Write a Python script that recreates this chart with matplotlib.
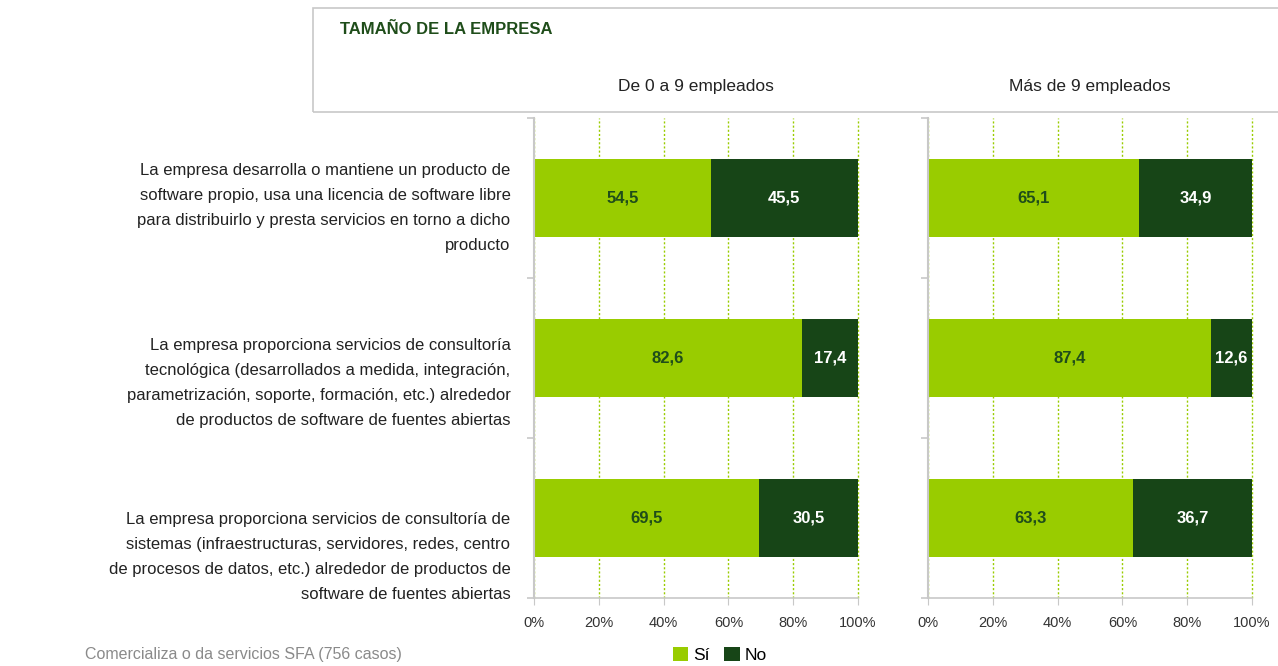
import numpy as np
import matplotlib.pyplot as plt
from matplotlib.patches import Rectangle
from matplotlib.transforms import ScaledTranslation

plt.rcParams['font.family'] = ['Liberation Sans', 'DejaVu Sans']

categorias = [
    "La empresa desarrolla o mantiene un producto de\n"
    "software propio, usa una licencia de software libre\n"
    "para distribuirlo y presta servicios en torno a dicho\n"
    "producto",
    "La empresa proporciona servicios de consultoría\n"
    "tecnológica (desarrollados a medida, integración,\n"
    "parametrización, soporte, formación, etc.) alrededor\n"
    "de productos de software de fuentes abiertas",
    "La empresa proporciona servicios de consultoría de\n"
    "sistemas (infraestructuras, servidores, redes, centro\n"
    "de procesos de datos, etc.) alrededor de productos de\n"
    "software de fuentes abiertas",
]
grupos = ["De 0 a 9 empleados", "Más de 9 empleados"]
si_0a9 = [54.5, 82.6, 69.5]
no_0a9 = [45.5, 17.4, 30.5]
si_mas9 = [65.1, 87.4, 63.3]
no_mas9 = [34.9, 12.6, 36.7]
ticks_pct = [0, 20, 40, 60, 80, 100]

verde_claro = '#99cc00'
verde_osc = '#174517'
gris = '#c8c8c8'

fig = plt.figure(figsize=(12.78, 6.66), dpi=100)

# cabecera
fig.patches.append(Rectangle((313/1278, 1-112/666), 1.0, 104/666, transform=fig.transFigure,
                             fill=False, edgecolor=gris, linewidth=1.2))
fig.text(340/1278, 1-30/666, "TAMAÑO DE LA EMPRESA", color='#1f4d1a', fontsize=12,
         fontweight='bold', va='center', ha='left')

ax1 = fig.add_axes([534/1278, 1-598/666, 324/1278, 480/666])
ax2 = fig.add_axes([928/1278, 1-598/666, 324/1278, 480/666])

y = np.arange(len(categorias))
for ax, si, no, titulo in [(ax1, si_0a9, no_0a9, grupos[0]), (ax2, si_mas9, no_mas9, grupos[1])]:
    ax.barh(y, si, height=0.49, color=verde_claro, zorder=2, label='Sí')
    ax.barh(y, no, left=si, height=0.49, color=verde_osc, zorder=2, label='No')
    for i in range(len(y)):
        ax.text(si[i] / 2, y[i], f"{si[i]:.1f}".replace('.', ','), ha='center', va='center',
                color='#1f4d1a', fontsize=12, fontweight='bold', zorder=3)
        ax.text(si[i] + no[i] / 2, y[i], f"{no[i]:.1f}".replace('.', ','), ha='center', va='center',
                color='white', fontsize=12, fontweight='bold', zorder=3)
    ax.set_xlim(0, 100)
    ax.set_ylim(len(categorias) - 0.5, -0.5)
    ax.set_xticks(ticks_pct)
    ax.set_xticklabels([f"{t}%" for t in ticks_pct], fontsize=10.5, color='#333333')
    ax.xaxis.grid(True, linestyle=(0, (1.5, 1.5)), color=verde_claro, linewidth=1, zorder=0)
    for gl in ax.get_xgridlines():
        gl.set_clip_on(False)
    ax.set_axisbelow(True)
    for s in ['top', 'right']:
        ax.spines[s].set_visible(False)
    ax.spines['left'].set_color(gris)
    ax.spines['bottom'].set_color(gris)
    ax.spines['left'].set_linewidth(1.5)
    ax.spines['bottom'].set_linewidth(1.2)
    ax.tick_params(axis='x', colors=gris, length=5, labelcolor='#333333', pad=8)
    ax.set_yticks(np.arange(-0.5, len(categorias)), minor=True)
    ax.tick_params(axis='y', which='minor', length=5, color=gris, width=1.2)
    ax.tick_params(axis='y', which='major', length=0)
    fig.text((ax.get_position().x0 + ax.get_position().x1) / 2, 1-87/666, titulo,
             ha='center', va='center', fontsize=12.5, color='#222222')

ax1.set_yticks(y)
ax1.set_yticklabels(categorias, fontsize=12, color='#222222', ha='right', linespacing=1.85,
                    va='center')
ax1.tick_params(axis='y', which='major', pad=17)
# en el original las etiquetas quedan algo por debajo del centro de la barra
for lab, dy in zip(ax1.get_yticklabels(), [-10, -25, -39]):
    lab.set_transform(lab.get_transform() + ScaledTranslation(0, dy / 100, fig.dpi_scale_trans))
ax2.set_yticks(y)
ax2.set_yticklabels([])

fig.text(85/1278, 1-655/666, "Comercializa o da servicios SFA (756 casos)", color='#8a8a8a',
         fontsize=11.5, ha='left', va='center')

h, l = ax1.get_legend_handles_labels()
fig.legend(h, l, loc='center', bbox_to_anchor=(720/1278, 1-655/666), ncol=2, frameon=False,
           fontsize=12.5, handlelength=0.9, handleheight=0.9, handletextpad=0.3, columnspacing=0.8)

fig.savefig('out.png', dpi=100)
